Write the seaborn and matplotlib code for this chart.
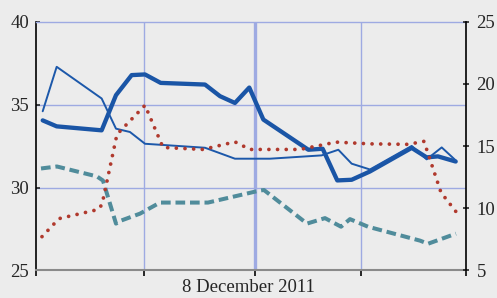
import matplotlib
matplotlib.use('Agg')
import matplotlib.pyplot as plt
from matplotlib.transforms import ScaledTranslation
import seaborn as sns

# ── Data (hours from left edge of the axis) ────────────────────────────────
thick_x = [0.75, 2.31, 7.33, 8.93, 10.68, 12.17, 13.92, 18.87, 20.54, 22.21, 23.81,
           25.38, 30.40, 32.00, 33.63, 35.24, 37.28, 41.94, 43.61, 44.87, 46.85]
thick_y = [34.05, 33.69, 33.45, 35.57, 36.78, 36.82, 36.31, 36.21, 35.51, 35.10, 36.03,
           34.10, 32.28, 32.34, 30.43, 30.47, 30.97, 32.39, 31.82, 31.88, 31.57]

thin_x = [0.75, 2.31, 7.33, 8.93, 10.49, 12.17, 18.87, 22.21, 26.12, 31.89, 33.75,
          35.24, 37.28, 41.94, 43.61, 45.29, 46.85]
thin_y = [34.60, 37.28, 35.37, 33.55, 33.35, 32.64, 32.40, 31.74, 31.74, 31.94, 32.28,
          31.44, 31.09, 32.51, 31.70, 32.42, 31.64]

red_x = [0.67, 2.57, 6.92, 7.37, 9.04, 12.17, 14.18, 18.64, 22.21, 23.89, 29.47,
         33.49, 37.28, 41.53, 43.31, 45.21, 46.88]
red_y = [7.72, 9.17, 9.90, 10.30, 15.94, 18.28, 14.89, 14.73, 15.34, 14.73, 14.73,
         15.32, 15.18, 15.14, 15.38, 11.27, 9.73]

teal_x = [0.56, 2.34, 6.81, 7.48, 8.93, 9.49, 11.61, 13.84, 19.20, 25.00, 25.45,
          30.25, 32.26, 34.05, 35.05, 37.06, 42.87, 43.76, 46.88]
teal_y = [13.20, 13.36, 12.56, 12.23, 8.77, 9.01, 9.57, 10.46, 10.46, 11.43, 11.47,
          8.77, 9.21, 8.52, 9.13, 8.52, 7.40, 7.15, 7.96]

x_ticks = [0, 12.1, 24.4, 36.3, 48]
x_labels = ['', '', '8 December 2011', '', '']
left_ticks = [25, 30, 35, 40]
right_ticks = [5, 10, 15, 20, 25]

# ── Style ──────────────────────────────────────────────────────────────────
BG = '#ececec'
GRID = '#9eaae2'
sns.set_style('white')
plt.rcParams['font.family'] = ['Liberation Serif', 'DejaVu Serif']
plt.rcParams['font.size'] = 13.5

fig = plt.figure(figsize=(4.97, 2.98), dpi=100, facecolor=BG)
ax = fig.add_axes([0.0724, 0.0923, 0.8652, 0.8349])
ax.set_facecolor(BG)
ax2 = ax.twinx()
ax2.patch.set_visible(False)

# grid
for v in [30, 35]:
    ax.axhline(v, color=GRID, lw=1.0, zorder=0)
for v in [x_ticks[1], x_ticks[3]]:
    ax.axvline(v, color=GRID, lw=1.0, zorder=0)
ax.axvline(x_ticks[2], color=GRID, lw=2.4, zorder=0)

# series
sns.lineplot(x=thick_x, y=thick_y, ax=ax, color='#1a55a6', lw=3.1, sort=False,
             solid_joinstyle='round')
sns.lineplot(x=thin_x, y=thin_y, ax=ax, color='#1c58aa', lw=1.4, sort=False)
sns.lineplot(x=teal_x, y=teal_y, ax=ax2, color='#508c9b', lw=2.9, sort=False,
             linestyle=(0, (2.4, 1.2)))
sns.lineplot(x=red_x, y=red_y, ax=ax2, color='#b0392d', lw=2.7, sort=False,
             linestyle=(0, (0.01, 2.3)), dash_capstyle='round')

# axes
ax.set_xlim(0, 48)
ax.set_ylim(25, 40)
ax2.set_ylim(5, 25)
ax.set_xticks(x_ticks)
ax.set_xticklabels(x_labels)
ax.set_yticks(left_ticks)
ax2.set_yticks(right_ticks)
ax.set_xlabel('')
ax.set_ylabel('')
ax2.set_ylabel('')

ax.spines['left'].set_color('black')
ax.spines['left'].set_linewidth(1.2)
ax.spines['top'].set_color(GRID)
ax.spines['top'].set_linewidth(1.0)
ax.spines['right'].set_visible(False)
ax.spines['bottom'].set_color('#8a8a8a')
ax.spines['bottom'].set_linewidth(1.5)
for s in ['left', 'top', 'bottom']:
    ax2.spines[s].set_visible(False)
ax2.spines['right'].set_color('black')
ax2.spines['right'].set_linewidth(1.2)

ax.tick_params(axis='y', direction='in', length=3, width=1.2, pad=5,
               labelsize=13.5, left=True)
ax.tick_params(axis='x', direction='out', length=4, width=1.4, pad=2,
               labelsize=13.5, bottom=True)
ax2.tick_params(axis='y', direction='inout', length=5, width=1.2, pad=5,
                labelsize=13.5, right=True)

# date label sits slightly left of its tick in the original
lbl = ax.get_xticklabels()[2]
lbl.set_transform(lbl.get_transform() + ScaledTranslation(-0.06, 0, fig.dpi_scale_trans))

fig.savefig('out.png', dpi=100, facecolor=BG)
plt.close(fig)
